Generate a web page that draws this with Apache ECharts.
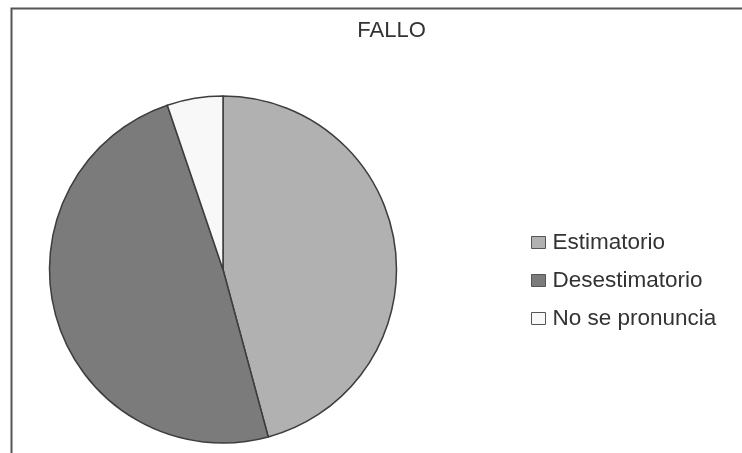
<!DOCTYPE html>
<html>
<head>
<meta charset="utf-8">
<script src="https://cdn.jsdelivr.net/npm/echarts@6/dist/echarts.min.js"></script>
<style>
  html, body { margin: 0; padding: 0; background: #fff; }
  #chart { width: 742px; height: 453px; }
</style>
</head>
<body>
<div id="chart"></div>
<script>
// Outcome shares (percent)
const categories = ['Estimatorio', 'Desestimatorio', 'No se pronuncia'];
const shares = [45.8, 49.0, 5.2];
const sliceColors = ['#b1b1b1', '#7b7b7b', '#f8f8f8'];

const chart = echarts.init(document.getElementById('chart'), null, { renderer: 'canvas' });

chart.setOption({
  animation: false,
  backgroundColor: '#ffffff',
  title: {
    text: 'FALLO',
    left: 391.5,
    top: 20,
    padding: 0,
    textAlign: 'center',
    textStyle: {
      fontFamily: 'Liberation Sans, Arial, sans-serif',
      fontSize: 22,
      fontWeight: 'normal',
      color: '#333333'
    }
  },
  legend: {
    orient: 'vertical',
    left: 531,
    top: 231,
    padding: 0,
    itemWidth: 14,
    itemHeight: 12,
    itemGap: 15,
    icon: 'rect',
    textStyle: {
      fontFamily: 'Liberation Sans, Arial, sans-serif',
      fontSize: 22.5,
      lineHeight: 22,
      color: '#333333',
      padding: [0, 0, 0, 2]
    },
    data: categories.map((name, i) => ({
      name,
      itemStyle: { color: sliceColors[i], borderColor: '#555555', borderWidth: 1 }
    }))
  },
  graphic: [
    {
      type: 'polyline',
      shape: { points: [[11.5, 453], [11.5, 8.5], [742, 8.5]] },
      style: { stroke: '#555555', lineWidth: 2, fill: null }
    }
  ],
  series: [{
    type: 'pie',
    center: [223, 269.5],
    radius: 173.5,
    startAngle: 90,
    clockwise: true,
    label: { show: false },
    labelLine: { show: false },
    emphasis: { disabled: true },
    itemStyle: { borderColor: '#3d3d3d', borderWidth: 1.5 },
    data: categories.map((name, i) => ({
      name,
      value: shares[i],
      itemStyle: { color: sliceColors[i] }
    }))
  }]
});
</script>
</body>
</html>
